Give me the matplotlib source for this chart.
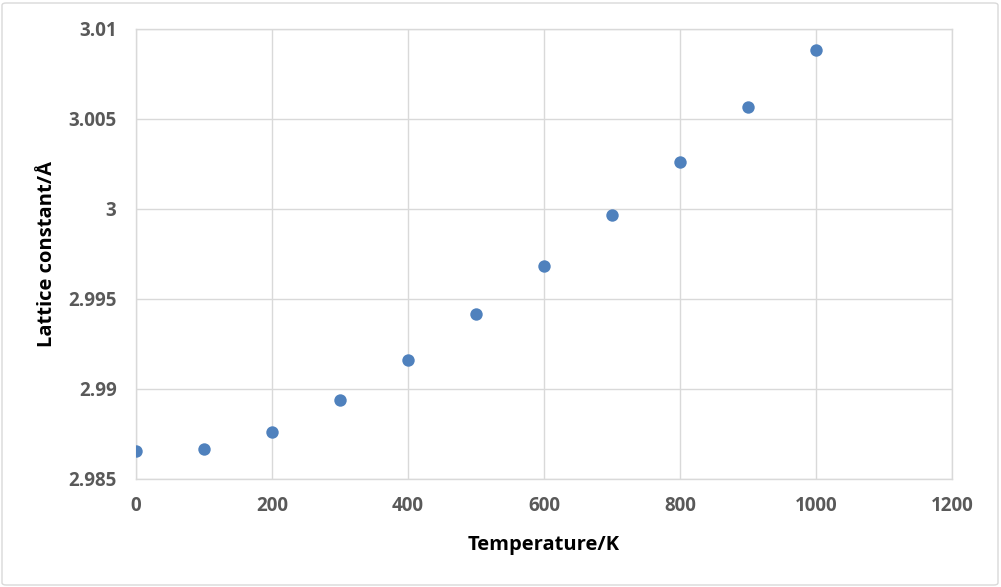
import matplotlib
matplotlib.use("Agg")
import matplotlib.pyplot as plt
from matplotlib.patches import FancyBboxPatch

temperature = [0, 100, 200, 300, 400, 500, 600, 700, 800, 900, 1000]
lattice = [2.98654, 2.98665, 2.98759, 2.98937, 2.99161, 2.99417,
           2.99683, 2.99967, 3.00261, 3.00565, 3.00882]
x_ticks = [0, 200, 400, 600, 800, 1000, 1200]
y_ticks = [2.985, 2.99, 2.995, 3.0, 3.005, 3.01]
y_tick_labels = ["2.985", "2.99", "2.995", "3", "3.005", "3.01"]

W, H = 1001, 587
fig = plt.figure(figsize=(W / 100, H / 100), dpi=100)
fig.patch.set_facecolor("white")

border = FancyBboxPatch((2 / W, 2 / H), (W - 5) / W, (H - 5) / H,
                        boxstyle="round,pad=0,rounding_size=0.004",
                        transform=fig.transFigure, facecolor="none",
                        edgecolor="#d9d9d9", linewidth=1.0)
fig.patches.append(border)

left, right, top, bottom = 136, 952, 29, 479
ax = fig.add_axes([left / W, (H - bottom) / H, (right - left) / W, (bottom - top) / H])

ax.scatter(temperature, lattice, s=80, color="#4F81BD", zorder=3, linewidths=0)

ax.set_xlim(0, 1200)
ax.set_ylim(2.985, 3.01)
ax.set_xticks(x_ticks)
ax.set_yticks(y_ticks)
ax.set_yticklabels(y_tick_labels)

ax.grid(True, color="#d9d9d9", linewidth=1.0)
ax.set_axisbelow(True)
for s in ax.spines.values():
    s.set_color("#d9d9d9")
    s.set_linewidth(1.0)

ax.tick_params(axis="both", length=0, colors="#595959", labelsize=13.5)
ax.tick_params(axis="x", pad=12)
ax.tick_params(axis="y", pad=14)
for lab in ax.get_xticklabels() + ax.get_yticklabels():
    lab.set_fontfamily("Open Sans")
    lab.set_fontweight("bold")

ax.set_xlabel("Temperature/K", fontsize=14.5, fontweight="bold",
              fontfamily="Open Sans", color="black", labelpad=14)
ax.set_ylabel("Lattice constant/Å", fontsize=14.5, fontweight="bold",
              fontfamily="Open Sans", color="black", labelpad=8)

fig.savefig("out.png", dpi=100)
